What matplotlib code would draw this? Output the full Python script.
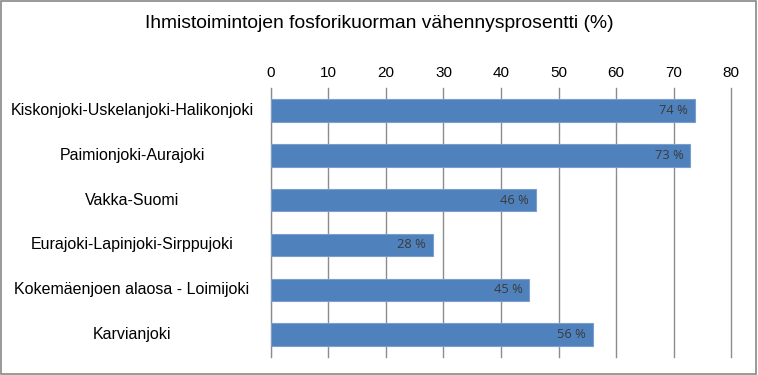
import matplotlib
matplotlib.use("Agg")
import matplotlib.pyplot as plt
from matplotlib.patches import Rectangle

# Data
areas = [
    "Kiskonjoki-Uskelanjoki-Halikonjoki",
    "Paimionjoki-Aurajoki",
    "Vakka-Suomi",
    "Eurajoki-Lapinjoki-Sirppujoki",
    "Kokemäenjoen alaosa - Loimijoki",
    "Karvianjoki",
]
reduction = [73.7, 72.9, 46.1, 28.2, 44.9, 56.0]
xticks = [0, 10, 20, 30, 40, 50, 60, 70, 80]

fig = plt.figure(figsize=(7.58, 3.75), dpi=100)
ax = fig.add_axes([0.3575, 0.048, 0.9644 - 0.3575, 0.717])

ypos = list(range(len(areas)))
bars = ax.barh(ypos, reduction, height=0.5, color="#4F81BD",
               edgecolor="#7A9FCE", linewidth=0.8, zorder=3)

for b, v in zip(bars, reduction):
    ax.text(b.get_width() - 1.2, b.get_y() + b.get_height() / 2,
            f"{v:.0f} %", ha="right", va="center", fontsize=9.3,
            color="#3A3A3A", family="Open Sans", zorder=4)

# category labels, centred in the left margin like the original
for y, name in zip(ypos, areas):
    ax.text(-0.302, y, name, transform=ax.get_yaxis_transform(),
            ha="center", va="center", fontsize=11.5, family="Liberation Sans")

ax.set_xlim(0, 80)
ax.set_ylim(len(areas) - 0.5, -0.5)
ax.set_yticks([])
ax.set_xticks(xticks)
ax.set_xticklabels([str(t) for t in xticks], fontsize=11, family="Liberation Sans")
ax.xaxis.tick_top()
ax.tick_params(axis="x", length=0, pad=6)
ax.grid(axis="x", color="#8C8C8C", linewidth=1, zorder=0)
for line in ax.get_xgridlines():
    line.set_clip_on(False)
for s in ax.spines.values():
    s.set_visible(False)
ax.axvline(0, color="#D0D0D0", linewidth=1, zorder=1)

fig.text(0.5, 0.937, "Ihmistoimintojen fosforikuorman vähennysprosentti (%)",
         ha="center", va="center", fontsize=13.9, family="Liberation Sans")

fig.add_artist(Rectangle((0.001, 0.002), 0.997, 0.995, transform=fig.transFigure,
                         fill=False, edgecolor="#888888", linewidth=1.2))

fig.savefig("out.png", dpi=100)
